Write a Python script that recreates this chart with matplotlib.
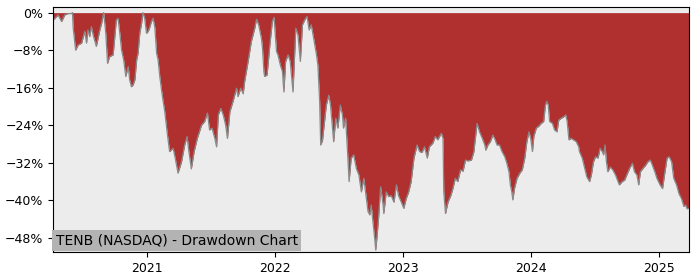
import numpy as np
import pandas as pd
import matplotlib
matplotlib.use('Agg')
import matplotlib.pyplot as plt
import matplotlib.ticker as mticker

title = 'TENB (NASDAQ) - Drawdown Chart'

# drawdown readings (%)
dates_2020 = ['2020-04-09', '2020-04-23', '2020-05-03', '2020-05-12', '2020-05-21', '2020-05-31',
              '2020-06-03', '2020-06-05', '2020-06-12', '2020-06-19', '2020-06-29', '2020-07-08',
              '2020-07-13', '2020-07-17', '2020-07-22', '2020-07-27', '2020-08-01', '2020-08-10',
              '2020-08-15', '2020-08-20', '2020-08-25', '2020-08-31', '2020-09-06', '2020-09-11',
              '2020-09-17', '2020-09-27', '2020-10-06', '2020-10-11', '2020-10-16', '2020-10-21',
              '2020-10-27', '2020-11-02', '2020-11-09', '2020-11-13', '2020-11-18', '2020-11-23',
              '2020-11-28', '2020-12-03', '2020-12-07', '2020-12-12', '2020-12-17', '2020-12-21',
              '2020-12-26', '2020-12-31']
dd_2020 = [-1.6, -0.5, -1.9, -0.5, -0.2, -0.2,
           0.0, -3.3, -8.0, -6.9, -6.5, -4.0,
           -6.5, -3.7, -5.1, -3.0, -4.8, -7.2,
           -5.5, -3.7, -2.3, 0.0, -4.4, -10.8,
           -9.4, -9.0, -1.6, -1.2, -4.4, -8.0,
           -10.1, -13.6, -11.5, -14.3, -15.8, -15.4,
           -14.3, -10.1, -8.7, -4.4, -2.3, 0.0,
           -1.2, -4.4]

dates_2021 = ['2021-01-05', '2021-01-10', '2021-01-14', '2021-01-19', '2021-01-24', '2021-01-29',
              '2021-02-02', '2021-02-07', '2021-02-12', '2021-02-16', '2021-02-21', '2021-02-26',
              '2021-03-01', '2021-03-07', '2021-03-17', '2021-03-23', '2021-03-31', '2021-04-10',
              '2021-04-19', '2021-04-26', '2021-05-01', '2021-05-08', '2021-05-16', '2021-05-25',
              '2021-06-06', '2021-06-15', '2021-06-23', '2021-06-29', '2021-07-06', '2021-07-14',
              '2021-07-19', '2021-07-24', '2021-07-31', '2021-08-07', '2021-08-14', '2021-08-19',
              '2021-08-26', '2021-09-04', '2021-09-14', '2021-09-18', '2021-09-26', '2021-10-03',
              '2021-10-07', '2021-10-17', '2021-10-26', '2021-11-05', '2021-11-10', '2021-11-16',
              '2021-11-24', '2021-11-27', '2021-12-01', '2021-12-03', '2021-12-10', '2021-12-18',
              '2021-12-25', '2021-12-30']
dd_2021 = [-4.0, -3.0, -1.9, -1.2, -3.2, -8.7,
           -10.0, -13.6, -16.5, -18.6, -21.0, -24.3,
           -26.1, -29.6, -28.9, -31.0, -34.2, -31.8,
           -28.2, -26.4, -29.6, -33.3, -29.6, -26.8,
           -24.0, -23.2, -21.4, -25.0, -24.6, -26.8,
           -28.6, -21.8, -20.4, -21.8, -24.0, -26.8,
           -21.1, -18.9, -16.1, -17.9, -16.1, -17.3,
           -14.7, -10.4, -6.2, -3.3, -1.4, -2.6,
           -5.5, -7.6, -12.6, -13.6, -13.3, -6.9,
           -1.9, -1.0]

dates_2022 = ['2022-01-06', '2022-01-10', '2022-01-17', '2022-01-23', '2022-01-27', '2022-02-01',
              '2022-02-08', '2022-02-14', '2022-02-22', '2022-03-02', '2022-03-08', '2022-03-15',
              '2022-03-21', '2022-03-27', '2022-04-03', '2022-04-09', '2022-04-15', '2022-04-22',
              '2022-04-30', '2022-05-04', '2022-05-09', '2022-05-12', '2022-05-17', '2022-05-23',
              '2022-05-28', '2022-06-04', '2022-06-09', '2022-06-14', '2022-06-18', '2022-06-24',
              '2022-06-30', '2022-07-07', '2022-07-13', '2022-07-16', '2022-07-22', '2022-07-27',
              '2022-08-01', '2022-08-07', '2022-08-14', '2022-08-22', '2022-08-29', '2022-09-05',
              '2022-09-12', '2022-09-17', '2022-09-24', '2022-09-29', '2022-10-03', '2022-10-08',
              '2022-10-13', '2022-10-16', '2022-10-20', '2022-10-24', '2022-10-30', '2022-11-06',
              '2022-11-08', '2022-11-15', '2022-11-22', '2022-11-29', '2022-12-07', '2022-12-14',
              '2022-12-20', '2022-12-28']
dd_2022 = [-8.3, -9.0, -11.2, -12.6, -16.9, -10.4,
           -9.0, -10.4, -16.9, -3.3, -4.7, -10.4,
           -2.6, -1.6, -0.8, -3.7, -2.6, -5.5,
           -9.0, -11.2, -18.9, -28.2, -27.3, -23.2,
           -19.7, -17.6, -19.7, -24.0, -27.5, -22.5,
           -24.6, -19.7, -21.8, -24.6, -22.5, -28.9,
           -36.0, -31.0, -30.3, -33.3, -34.6, -38.2,
           -35.3, -38.2, -42.4, -43.1, -41.0, -44.6,
           -48.1, -50.6, -47.4, -43.8, -37.1, -41.0,
           -42.8, -38.2, -39.2, -39.0, -40.4, -36.7,
           -39.0, -40.4]

dates_2023 = ['2023-01-04', '2023-01-11', '2023-01-18', '2023-01-25', '2023-02-02', '2023-02-11',
              '2023-02-18', '2023-02-25', '2023-03-04', '2023-03-12', '2023-03-18', '2023-03-28',
              '2023-04-04', '2023-04-11', '2023-04-21', '2023-04-26', '2023-04-28', '2023-05-03',
              '2023-05-10', '2023-05-18', '2023-05-24', '2023-05-31', '2023-06-07', '2023-06-15',
              '2023-06-22', '2023-06-29', '2023-07-06', '2023-07-16', '2023-07-23', '2023-07-25',
              '2023-08-01', '2023-08-08', '2023-08-16', '2023-08-23', '2023-08-26', '2023-09-01',
              '2023-09-08', '2023-09-15', '2023-09-20', '2023-09-27', '2023-10-04', '2023-10-11',
              '2023-10-19', '2023-10-25', '2023-10-31', '2023-11-04', '2023-11-08', '2023-11-11',
              '2023-11-16', '2023-11-23', '2023-12-01', '2023-12-08', '2023-12-15', '2023-12-21',
              '2023-12-27']
dd_2023 = [-41.7, -39.6, -38.2, -36.0, -31.0, -28.2,
           -29.6, -29.8, -28.6, -31.0, -28.6, -27.8,
           -26.4, -27.1, -25.7, -26.8, -38.2, -42.8,
           -40.4, -39.0, -37.5, -35.3, -36.0, -33.5,
           -33.8, -31.4, -31.6, -31.4, -29.6, -28.2,
           -23.6, -25.4, -26.8, -28.2, -29.3, -28.2,
           -27.5, -26.1, -26.8, -28.2, -28.2, -29.6,
           -30.7, -32.1, -33.9, -36.7, -38.2, -39.9,
           -37.4, -35.3, -34.2, -33.5, -31.0, -27.5,
           -25.4]

dates_2024 = ['2024-01-01', '2024-01-06', '2024-01-10', '2024-01-17', '2024-01-24', '2024-01-31',
              '2024-02-07', '2024-02-12', '2024-02-16', '2024-02-20', '2024-02-24', '2024-03-03',
              '2024-03-09', '2024-03-16', '2024-03-21', '2024-03-28', '2024-04-04', '2024-04-10',
              '2024-04-14', '2024-04-19', '2024-04-26', '2024-05-02', '2024-05-10', '2024-05-17',
              '2024-05-19', '2024-05-27', '2024-06-03', '2024-06-09', '2024-06-17', '2024-06-22',
              '2024-06-28', '2024-07-04', '2024-07-11', '2024-07-17', '2024-07-23', '2024-07-27',
              '2024-07-31', '2024-08-04', '2024-08-08', '2024-08-15', '2024-08-22', '2024-08-30',
              '2024-09-06', '2024-09-10', '2024-09-18', '2024-09-25', '2024-10-01', '2024-10-09',
              '2024-10-17', '2024-10-23', '2024-10-30', '2024-11-04', '2024-11-09', '2024-11-16',
              '2024-11-24', '2024-11-30', '2024-12-07', '2024-12-13', '2024-12-20', '2024-12-26']
dd_2024 = [-26.8, -29.6, -26.4, -24.6, -24.2, -23.6,
           -23.2, -19.7, -18.9, -19.7, -23.2, -23.6,
           -25.0, -25.4, -22.9, -22.5, -22.2, -21.8,
           -23.2, -27.1, -26.8, -27.1, -27.5, -28.6,
           -29.6, -31.0, -33.2, -35.0, -36.0, -34.6,
           -31.8, -30.7, -31.0, -28.9, -29.6, -30.3,
           -28.2, -31.8, -33.9, -32.9, -33.5, -34.6,
           -36.0, -36.7, -36.0, -35.7, -34.6, -33.2,
           -32.1, -33.9, -34.6, -36.7, -33.9, -33.2,
           -32.5, -31.8, -31.4, -32.5, -33.9, -35.3]

dates_2025 = ['2025-01-04', '2025-01-11', '2025-01-18', '2025-01-24', '2025-01-30', '2025-02-06',
              '2025-02-12', '2025-02-20', '2025-02-27', '2025-03-06', '2025-03-13', '2025-03-18',
              '2025-03-22', '2025-03-27']
dd_2025 = [-36.7, -37.5, -33.9, -31.0, -30.7, -31.8,
           -35.3, -36.7, -38.6, -39.6, -41.3, -41.0,
           -41.8, -41.7]

yticks = [0, -8, -16, -24, -32, -40, -48]

dates = pd.to_datetime(dates_2020 + dates_2021 + dates_2022 + dates_2023 + dates_2024 + dates_2025)
dd = np.array(dd_2020 + dd_2021 + dd_2022 + dd_2023 + dd_2024 + dd_2025)

fig = plt.figure(figsize=(7, 2.8), dpi=100)
ax = fig.add_axes([0.076, 0.1, 0.908, 0.875])
ax.set_facecolor('#ececec')

ax.fill_between(dates, dd, 0, color='#b03030', linewidth=0)
ax.plot(dates, dd, color='#8a8a8a', linewidth=0.9)

ax.set_xlim(dates[0], dates[-1])
ax.set_ylim(-51, 1.2)
ax.set_yticks(yticks)
ax.yaxis.set_major_formatter(mticker.FuncFormatter(lambda v, _: f'{v:.0f}%'.replace('-', '\u2212')))
ax.xaxis.set_major_locator(matplotlib.dates.YearLocator())
ax.xaxis.set_major_formatter(matplotlib.dates.DateFormatter('%Y'))
ax.tick_params(labelsize=9)

ax.text(0.004, 0.018, title, transform=ax.transAxes, fontsize=10, va='bottom', ha='left',
        bbox=dict(facecolor='#b3b3b3', edgecolor='none', pad=2.5))

fig.savefig('out.png')
